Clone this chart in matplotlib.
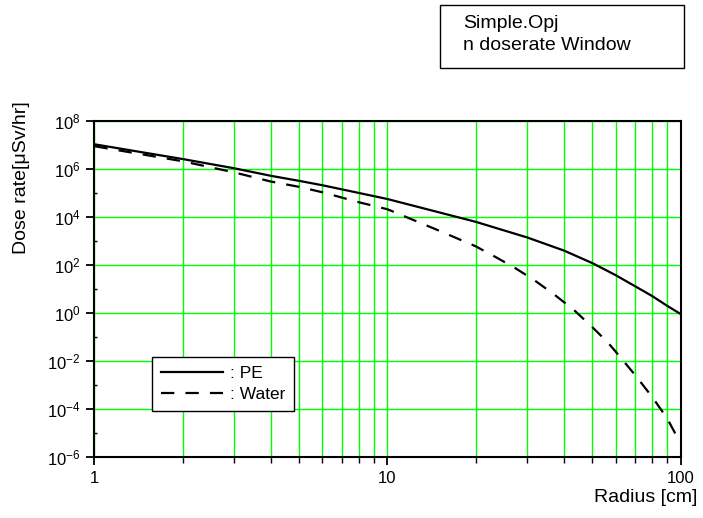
import matplotlib.pyplot as plt
import matplotlib.ticker as mticker
from matplotlib.patches import Rectangle

plt.rcParams['font.family'] = ['Liberation Sans', 'DejaVu Sans']
plt.rcParams['mathtext.default'] = 'regular'

# PE shield, dose rate vs radius
pe_radius = [1, 2, 3, 4, 5, 6, 8, 10, 20, 30, 40, 50, 60, 70, 80, 90, 100]
pe_dose = [1.07e7, 2.6e6, 1.07e6, 5.2e5, 3.2e5, 2.1e5, 1.0e5, 5.6e4, 6.3e3,
           1.4e3, 4.0e2, 1.2e2, 38, 13, 5.1, 2.0, 0.91]

# Water shield
water_radius = [1, 2, 3, 4, 5, 6, 8, 10, 14.5, 17, 20, 23.3, 27.1, 31.6, 37,
                43.3, 49.8, 56.4, 60, 70, 80, 90, 100]
water_dose = [8.9e6, 2.1e6, 7.2e5, 3.0e5, 1.8e5, 1.07e5, 4.1e4, 2.1e4, 3.2e3,
              1.4e3, 6.0e2, 2.2e2, 78, 24, 6.0, 1.33, 0.27, 6.0e-2, 2.5e-2,
              2.6e-3, 3.2e-4, 4.1e-5, 3.7e-6]

y_ticks = [1e-6, 1e-4, 1e-2, 1e0, 1e2, 1e4, 1e6, 1e8]
y_ticklabels = ['10$^{-6}$', '10$^{-4}$', '10$^{-2}$', '10$^{0}$',
                '10$^{2}$', '10$^{4}$', '10$^{6}$', '10$^{8}$']
x_ticks = [1, 10, 100]
x_ticklabels = ['1', '10', '100']

fig = plt.figure(figsize=(7.03, 5.18), dpi=100)
ax = fig.add_axes([0.1344, 0.1178, 0.8336, 0.6486])

ax.set_xscale('log')
ax.set_yscale('log')
ax.set_xlim(1, 100)
ax.set_ylim(1e-6, 1e8)

green = '#00ff00'
ax.grid(True, which='major', axis='both', color=green, lw=1.0)
ax.grid(True, which='minor', axis='x', color=green, lw=1.0)
ax.set_axisbelow(True)

pe_line, = ax.plot(pe_radius, pe_dose, color='black', lw=1.6)
water_line, = ax.plot(water_radius, water_dose, color='black', lw=1.6,
                      dashes=(6, 5))

ax.set_yticks(y_ticks)
ax.set_yticklabels(y_ticklabels)
ax.yaxis.set_minor_locator(mticker.FixedLocator([1e-5, 1e-3, 1e-1, 1e1, 1e3, 1e5, 1e7]))
ax.yaxis.set_minor_formatter(mticker.NullFormatter())
ax.set_xticks(x_ticks)
ax.set_xticklabels(x_ticklabels)
ax.xaxis.set_minor_locator(mticker.LogLocator(base=10, subs=range(2, 10)))
ax.xaxis.set_minor_formatter(mticker.NullFormatter())

ax.tick_params(which='major', direction='out', length=6, width=1.3,
               labelsize=12, pad=4)
ax.tick_params(axis='x', which='minor', direction='out', length=4, width=1.0)
ax.tick_params(axis='y', which='minor', direction='in', length=2.5, width=1.0)
for s in ax.spines.values():
    s.set_linewidth(1.5)

leg = ax.legend([pe_line, water_line], [': PE', ': Water'],
                loc='upper left', bbox_to_anchor=(152 / 703, 1 - 357 / 518),
                bbox_transform=fig.transFigure, frameon=True, fancybox=False,
                edgecolor='black', framealpha=1, fontsize=12.5,
                handlelength=3.6, handletextpad=0.4, borderpad=0.5,
                labelspacing=0.35, borderaxespad=0)
leg.get_frame().set_linewidth(1.0)

fig.text(697 / 703, 1 - 497 / 518, 'Radius [cm]', ha='right', va='center',
         fontsize=14)
fig.text(22 / 703, 1 - 178 / 518, 'Dose rate[μSv/hr]', rotation=90,
         ha='center', va='center', fontsize=14)

fig.patches.append(Rectangle((440 / 703, 1 - 68 / 518), 244 / 703, 63 / 518,
                             transform=fig.transFigure, fill=False,
                             edgecolor='black', lw=1.0))
fig.text(463 / 703, 1 - 23 / 518, 'Simple.Opj', ha='left', va='center',
         fontsize=14)
fig.text(463 / 703, 1 - 46 / 518, 'n doserate Window', ha='left',
         va='center', fontsize=14)

fig.savefig('out.png', dpi=100)
